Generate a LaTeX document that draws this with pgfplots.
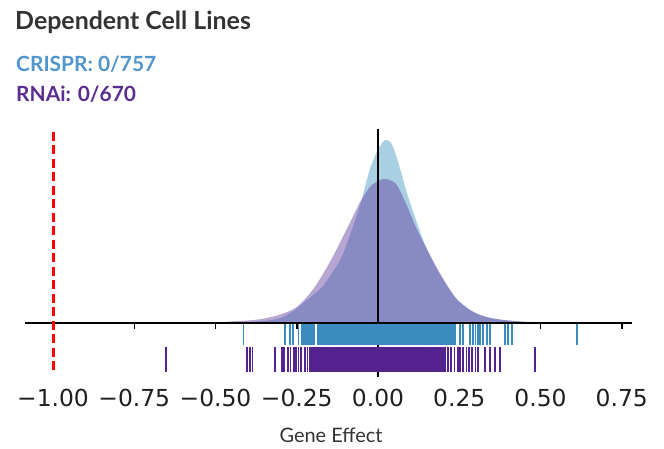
\documentclass[border=0pt]{standalone}
\usepackage{fontspec}
\setmainfont{Lato}
\newfontfamily\dejavu{DejaVu Sans}
\usepackage{pgfplots}
\usepackage{pgfplotstable}
\pgfplotsset{compat=1.18}
\definecolor{crisprfill}{HTML}{A9CFE3}
\definecolor{rnaifill}{HTML}{5F389E}
\definecolor{crisprrug}{HTML}{3A8CC0}
\definecolor{rnairug}{HTML}{55238F}
\definecolor{crisprtext}{HTML}{5096CC}
\definecolor{rnaitext}{HTML}{5B2D8E}
\definecolor{titlegray}{HTML}{333333}

% density curves (height in px above the zero line)
\pgfplotstableread{
x      y
-0.450 0
-0.350 2
-0.300 5
-0.260 12
-0.230 20
-0.200 28
-0.169 37
-0.127 57
-0.108 69
-0.086 88
-0.055 118
-0.025 154
0.001  174
0.022  183
0.042  179
0.062  161
0.088  131
0.119  101
0.150  74
0.191  48
0.242  24
0.304  9
0.360  4
0.417  2
0.480  0.5
0.550  0
}\crisprdens

\pgfplotstableread{
x      y
-0.500 0
-0.455 1.5
-0.400 2.5
-0.353 4.3
-0.300 8.5
-0.250 16
-0.199 34
-0.148 61
-0.096 94
-0.055 121
-0.025 136
-0.005 141
0.016  144
0.035  143
0.058  138
0.088  118
0.119  94
0.160  68
0.201  44
0.242  24
0.283  13
0.325  7
0.365  4
0.420  2
0.468  1
0.520  0
}\rnaidens

% rug values
\pgfplotstableread[row sep=\\]{
x\\ -0.414\\ -0.286\\ -0.271\\ -0.261\\ -0.245\\ -0.235\\
-0.230\\ -0.225\\ -0.220\\ -0.215\\ -0.210\\ -0.205\\ -0.200\\ -0.195\\ -0.185\\ -0.180\\
-0.175\\ -0.170\\ -0.165\\ -0.160\\ -0.155\\ -0.150\\ -0.145\\ -0.140\\ -0.135\\ -0.130\\
-0.125\\ -0.120\\ -0.115\\ -0.110\\ -0.105\\ -0.100\\ -0.095\\ -0.090\\ -0.085\\ -0.080\\
-0.075\\ -0.070\\ -0.065\\ -0.060\\ -0.055\\ -0.050\\ -0.045\\ -0.040\\ -0.035\\ -0.030\\
-0.025\\ -0.020\\ -0.015\\ -0.010\\ -0.005\\ 0.000\\ 0.005\\ 0.010\\ 0.015\\ 0.020\\
0.025\\ 0.030\\ 0.035\\ 0.040\\ 0.045\\ 0.050\\ 0.055\\ 0.060\\ 0.065\\ 0.070\\
0.075\\ 0.080\\ 0.085\\ 0.090\\ 0.095\\ 0.100\\ 0.105\\ 0.110\\ 0.115\\ 0.120\\
0.125\\ 0.130\\ 0.135\\ 0.140\\ 0.145\\ 0.150\\ 0.155\\ 0.160\\ 0.165\\ 0.170\\
0.175\\ 0.180\\ 0.185\\ 0.190\\ 0.195\\ 0.200\\ 0.205\\ 0.210\\ 0.215\\ 0.220\\
0.225\\ 0.230\\ 0.237\\ 0.252\\ 0.262\\ 0.283\\ 0.292\\ 0.300\\ 0.308\\ 0.314\\
0.323\\ 0.335\\ 0.345\\ 0.391\\ 0.400\\ 0.412\\ 0.612\\
}\crisprrugs

\pgfplotstableread[row sep=\\]{
x\\ -0.652\\ -0.404\\ -0.394\\ -0.386\\ -0.317\\ -0.296\\ -0.289\\ -0.276\\ -0.269\\
-0.258\\ -0.252\\ -0.245\\ -0.238\\ -0.225\\ -0.217\\
-0.210\\ -0.205\\ -0.200\\ -0.195\\ -0.190\\ -0.185\\ -0.180\\
-0.175\\ -0.170\\ -0.165\\ -0.160\\ -0.155\\ -0.150\\ -0.145\\ -0.140\\ -0.135\\ -0.130\\
-0.125\\ -0.120\\ -0.115\\ -0.110\\ -0.105\\ -0.100\\ -0.095\\ -0.090\\ -0.085\\ -0.080\\
-0.075\\ -0.070\\ -0.065\\ -0.060\\ -0.055\\ -0.050\\ -0.045\\ -0.040\\ -0.035\\ -0.030\\
-0.025\\ -0.020\\ -0.015\\ -0.010\\ -0.005\\ 0.000\\ 0.005\\ 0.010\\ 0.015\\ 0.020\\
0.025\\ 0.030\\ 0.035\\ 0.040\\ 0.045\\ 0.050\\ 0.055\\ 0.060\\ 0.065\\ 0.070\\
0.075\\ 0.080\\ 0.085\\ 0.090\\ 0.095\\ 0.100\\ 0.105\\ 0.110\\ 0.115\\ 0.120\\
0.125\\ 0.130\\ 0.135\\ 0.140\\ 0.145\\ 0.150\\ 0.155\\ 0.160\\ 0.165\\ 0.170\\
0.175\\ 0.180\\ 0.185\\ 0.190\\ 0.195\\ 0.200\\ 0.205\\ 0.215\\ 0.225\\ 0.235\\
0.245\\ 0.252\\ 0.262\\ 0.272\\ 0.280\\ 0.290\\ 0.300\\ 0.308\\ 0.329\\ 0.345\\
0.360\\ 0.375\\ 0.483\\
}\rnairugs

\begin{document}
\begin{tikzpicture}[x=1bp,y=1bp]
\useasboundingbox (0,0) rectangle (664,449);
\begin{axis}[at={(25bp,74bp)}, anchor=south west, scale only axis,
  width=607bp, height=246bp,
  xmin=-1.0862, xmax=0.7815, ymin=-52, ymax=194,
  axis x line=bottom, hide y axis,
  x axis line style={draw=none},
  xtick={-1,-0.75,-0.5,-0.25,0,0.25,0.5,0.75},
  xticklabels={−1.00,−0.75,−0.50,−0.25,0.00,0.25,0.50,0.75},
  major tick length=0pt,
  xticklabel style={font=\dejavu\fontsize{23.5}{28}\selectfont, anchor=base,
    yshift=-32bp, text=black!88, inner sep=0pt},
  clip=false]

\addplot[draw=none, fill=crisprfill, smooth] table[x=x, y=y] {\crisprdens} \closedcycle;
\addplot[draw=none, fill=rnaifill, fill opacity=0.45, smooth] table[x=x, y=y] {\rnaidens} \closedcycle;

\addplot[only marks, mark=|, mark size=10.5bp,
  mark options={line width=1.7bp, draw=crisprrug}]
  table[x index=0, y index=0, y expr=-11.5] {\crisprrugs};
\addplot[only marks, mark=|, mark size=12.5bp,
  mark options={line width=1.7bp, draw=rnairug}]
  table[x index=0, y index=0, y expr=-36.5] {\rnairugs};

\draw[black, line width=1.5bp] (axis cs:-1.0862,0) -- (axis cs:0.7815,0);
\pgfplotsinvokeforeach{-1,-0.75,-0.5,-0.25,0,0.25,0.5,0.75}{
  \draw[black, line width=1.5bp] (axis cs:#1,0) -- ++(0pt,-6bp);
}
\draw[black, line width=2bp] (axis cs:0,-54) -- (axis cs:0,194);
\draw[red, line width=3bp, dash pattern=on 9bp off 4.5bp] (axis cs:-1,191) -- (axis cs:-1,-51);
\end{axis}

\node[anchor=base west, inner sep=0pt, font=\fontsize{25}{30}\selectfont\bfseries, text=titlegray]
  at (15,419) {Dependent Cell Lines};
\node[anchor=base west, inner sep=0pt, font=\fontsize{21}{25}\selectfont\bfseries, text=crisprtext]
  at (16,377) {CRISPR: 0/757};
\node[anchor=base west, inner sep=0pt, font=\fontsize{21}{25}\selectfont\bfseries, text=rnaitext]
  at (16,347) {RNAi: 0/670};
\node[anchor=base, inner sep=0pt, font=\fontsize{20}{24}\selectfont, text=titlegray]
  at (331,6) {Gene Effect};
\end{tikzpicture}
\end{document}
